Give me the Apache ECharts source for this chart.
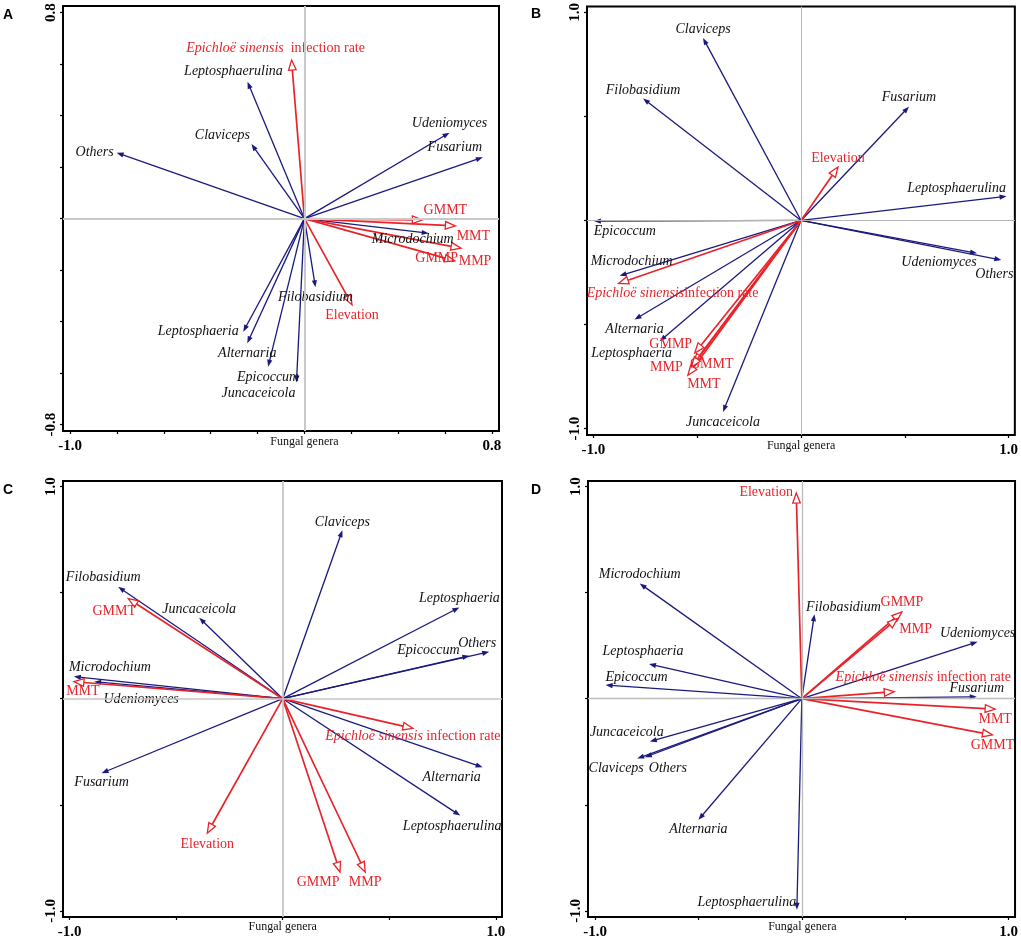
<!DOCTYPE html>
<html><head><meta charset="utf-8">
<script src="https://cdn.jsdelivr.net/npm/echarts@6.0.0/dist/echarts.min.js"></script>
<style>html,body{margin:0;padding:0;background:#fff}#c{width:1021px;height:941px}</style>
</head><body><div id="c"></div>
<script>
// ---------- data ----------
const genera = ['Alternaria','Claviceps','Epicoccum','Filobasidium','Fusarium','Juncaceicola','Leptosphaeria','Leptosphaerulina','Microdochium','Udeniomyces','Others'];
const factors = ['Epichloë sinensis infection rate','Elevation','GMMT','MMT','GMMP','MMP'];

const genusX_A = [-0.244,-0.226,-0.155,0.047,0.761,-0.034,-0.261,-0.243,0.530,0.619,-0.801];
const genusY_A = [-0.484,0.290,-0.575,-0.267,0.238,-0.637,-0.439,0.532,-0.057,0.334,0.256];
const factorX_A = [-0.055,0.203,0.503,0.644,0.641,0.668];
const factorY_A = [0.616,-0.335,-0.005,-0.028,-0.164,-0.115];

const genusX_B = [-0.802,-0.472,-0.998,-0.761,0.520,-0.376,-0.681,0.990,-0.874,0.848,0.965];
const genusY_B = [-0.476,0.877,-0.003,0.586,0.547,-0.920,-0.580,0.116,-0.266,-0.158,-0.190];
const factorX_B = [-0.879,0.178,-0.517,-0.545,-0.512,-0.528];
const factorY_B = [-0.303,0.257,-0.688,-0.744,-0.637,-0.704];

const genusX_C = [0.938,0.280,0.876,-0.772,-0.850,-0.392,0.829,0.833,-0.980,-0.885,0.969];
const genusY_C = [-0.323,0.794,0.202,0.527,-0.351,0.381,0.430,-0.551,0.104,0.080,0.221];
const factorX_C = [0.611,-0.354,-0.725,-0.980,0.269,0.387];
const factorY_C = [-0.140,-0.634,0.472,0.080,-0.817,-0.817];

const genusX_D = [-0.500,-0.796,-0.949,0.061,0.846,-0.735,-0.739,-0.024,-0.784,0.850,-0.759];
const genusY_D = [-0.571,-0.282,0.064,0.398,0.009,-0.202,0.163,-0.995,0.543,0.268,-0.276];
const factorX_D = [0.447,-0.027,0.922,0.935,0.484,0.463];
const factorY_D = [0.033,0.969,-0.171,-0.049,0.409,0.378];

const ticksA_x = [-1.0,-0.8,-0.6,-0.4,-0.2,0,0.2,0.4,0.6,0.8];
const ticksA_y = [-0.8,-0.6,-0.4,-0.2,0,0.2,0.4,0.6,0.8];
const ticksBCD = [-1.0,-0.5,0,0.5,1.0];
const tickLabelsA_x = [-1.0,0.8];
const tickLabelsA_y = [-0.8,0.8];
const tickLabelsBCD = [-1.0,1.0];
const axisTitle = 'Fungal genera';

// ---------- layout / style ----------
const BLUE = '#1a1a7e', RED = '#e8242a';
const SERIF = '"Liberation Serif","Times New Roman",serif';

const layout = {
  A: {grid:{left:63,top:6,width:436,height:425}, xr:[-1.03,0.83], yr:[-0.825,0.826], zeroW:2, zeroC:'#c9c9c9', letter:[3,8], sep:'  ', titleDy:11,
      gOff:[[0,10],[-29,-9],[0,11],[0,10],[-28,-10],[-38,11],[-45,0],[-14,-10],[-16,6],[0,-9],[-22,0]],
      fOff:[[-16,-12],[0,10],[23,-10],[18,10],[-18,-3],[14,13]]},
  B: {grid:{left:587,top:4,width:428,height:431}, xr:[-1.031,1.03], yr:[-1.031,1.028], zeroW:1, zeroC:'#b5b5b5', letter:[531,7], sep:'', titleDy:11,
      gOff:[[0,10],[0,-9],[31,10],[0,-8],[0,-9],[0,10],[-28,12],[-50,-8],[12,-15],[-38,9],[-7,14]],
      fOff:[[54,10],[0,-9],[18,1],[16,9],[-24,-9],[-25,0]]},
  C: {grid:{left:63,top:481,width:439,height:436}, xr:[-1.031,1.029], yr:[-1.029,1.026], zeroW:1.7, zeroC:'#c4c4c4', letter:[3,483], sep:' ', titleDy:10,
      gOff:[[-31,10],[0,-8],[-41,-6],[-15,-10],[0,9],[0,-9],[0,-9],[-8,11],[36,-9],[47,18],[-12,-8]],
      fOff:[[0,8],[0,11],[-14,13],[9,10],[-22,10],[0,10]]},
  D: {grid:{left:588,top:481,width:428,height:436}, xr:[-1.034,1.031], yr:[-1.029,1.026], zeroW:1.3, zeroC:'#bdbdbd', letter:[531,483], sep:' ', titleDy:10,
      gOff:[[0,9],[-21,10],[31,-8],[29,-7],[0,-8],[-23,-9],[-6,-13],[-50,-7],[0,-9],[0,-9],[23,11]],
      fOff:[[29,-14],[-30,-1],[0,10],[0,10],[0,-10],[18,11]]}
};

const panels = [
  {id:'A', gx:genusX_A, gy:genusY_A, fx:factorX_A, fy:factorY_A, xt:ticksA_x, yt:ticksA_y, xl:tickLabelsA_x, yl:tickLabelsA_y},
  {id:'B', gx:genusX_B, gy:genusY_B, fx:factorX_B, fy:factorY_B, xt:ticksBCD, yt:ticksBCD, xl:tickLabelsBCD, yl:tickLabelsBCD},
  {id:'C', gx:genusX_C, gy:genusY_C, fx:factorX_C, fy:factorY_C, xt:ticksBCD, yt:ticksBCD, xl:tickLabelsBCD, yl:tickLabelsBCD},
  {id:'D', gx:genusX_D, gy:genusY_D, fx:factorX_D, fy:factorY_D, xt:ticksBCD, yt:ticksBCD, xl:tickLabelsBCD, yl:tickLabelsBCD}
];

function arrowItem(kind) {
  return function (params, api) {
    const o = api.coord([0, 0]);
    const p = api.coord([api.value(0), api.value(1)]);
    const dx = p[0] - o[0], dy = p[1] - o[1];
    const len = Math.hypot(dx, dy) || 1;
    const ux = dx / len, uy = dy / len, nx = -uy, ny = ux;
    if (kind === 'genus') {
      const hl = 7, hw = 2.6;
      const b = [p[0] - ux * hl, p[1] - uy * hl];
      return {type: 'group', children: [
        {type: 'line', shape: {x1: o[0], y1: o[1], x2: b[0] + ux * 2, y2: b[1] + uy * 2}, style: {stroke: BLUE, lineWidth: 1.3}},
        {type: 'polygon', shape: {points: [[p[0], p[1]], [b[0] + nx * hw, b[1] + ny * hw], [b[0] - nx * hw, b[1] - ny * hw]]}, style: {fill: BLUE}}
      ]};
    }
    const hl = 10, hw = 3.8;
    const b = [p[0] - ux * hl, p[1] - uy * hl];
    return {type: 'group', children: [
      {type: 'line', shape: {x1: o[0], y1: o[1], x2: b[0], y2: b[1]}, style: {stroke: RED, lineWidth: 1.7}},
      {type: 'polygon', shape: {points: [[p[0], p[1]], [b[0] + nx * hw, b[1] + ny * hw], [b[0] - nx * hw, b[1] - ny * hw]]}, style: {fill: '#fff', stroke: RED, lineWidth: 1.3}}
    ]};
  };
}

const option = {animation: false, backgroundColor: '#fff', grid: [], xAxis: [], yAxis: [], series: [], graphic: []};

panels.forEach((pn, i) => {
  const L = layout[pn.id];
  option.grid.push(Object.assign({show: true, borderColor: '#000', borderWidth: 2, backgroundColor: 'rgba(0,0,0,0)'}, L.grid));
  const axisLabelBase = {color: '#000', fontFamily: SERIF, fontWeight: 'bold', fontSize: 15, formatter: v => Number(v).toFixed(1)};
  option.xAxis.push({type: 'value', gridIndex: i, min: L.xr[0], max: L.xr[1], position: 'bottom',
    axisLine: {show: false, onZero: false}, splitLine: {show: false},
    axisTick: {show: true, customValues: pn.xt, length: 3, lineStyle: {color: '#000', width: 1.2}},
    axisLabel: Object.assign({customValues: pn.xl, margin: 8}, axisLabelBase)});
  option.yAxis.push({type: 'value', gridIndex: i, min: L.yr[0], max: L.yr[1], position: 'left',
    axisLine: {show: false, onZero: false}, splitLine: {show: false},
    axisTick: {show: true, customValues: pn.yt, length: 3, lineStyle: {color: '#000', width: 1.2}},
    axisLabel: Object.assign({customValues: pn.yl, rotate: 90, margin: 4}, axisLabelBase)});

  // zero lines
  option.series.push({type: 'line', xAxisIndex: i, yAxisIndex: i, data: [[0, 0]], symbol: 'none', lineStyle: {opacity: 0}, silent: true, z: 1,
    markLine: {silent: true, symbol: 'none', label: {show: false}, lineStyle: {color: L.zeroC, width: L.zeroW, type: 'solid'}, data: [{xAxis: 0}, {yAxis: 0}]}});

  const gData = pn.gx.map((x, k) => [x, pn.gy[k]]);
  const fData = pn.fx.map((x, k) => [x, pn.fy[k]]);
  option.series.push({type: 'custom', xAxisIndex: i, yAxisIndex: i, data: gData, renderItem: arrowItem('genus'), silent: true, z: 2});
  option.series.push({type: 'custom', xAxisIndex: i, yAxisIndex: i, data: fData, renderItem: arrowItem('factor'), silent: true, z: 3});

  // labels
  const labels = [];
  genera.forEach((g, k) => labels.push({text: g, off: L.gOff[k], fill: '#111', font: 'italic 14px ' + SERIF}));
  factors.forEach((f, k) => {
    if (k === 0) {
      labels.push({text: '{i|Epichloë sinensis}{n|' + L.sep + 'infection rate}', off: L.fOff[k], fill: RED, font: '14px ' + SERIF,
        rich: {i: {font: 'italic 14px ' + SERIF, fill: RED}, n: {font: '14px ' + SERIF, fill: RED}}});
    } else {
      labels.push({text: f, off: L.fOff[k], fill: RED, font: '14px ' + SERIF});
    }
  });
  const lData = gData.concat(fData);
  option.series.push({type: 'custom', xAxisIndex: i, yAxisIndex: i, data: lData, silent: true, z: 4, clip: true,
    renderItem: (params, api) => {
      const p = api.coord([api.value(0), api.value(1)]);
      const lb = labels[params.dataIndex];
      const st = {text: lb.text, fill: lb.fill, font: lb.font, align: 'center', verticalAlign: 'middle'};
      if (lb.rich) st.rich = lb.rich;
      return {type: 'text', x: p[0] + lb.off[0], y: p[1] + lb.off[1], style: st};
    }});

  // panel letter + axis title at x = 0
  option.graphic.push({type: 'text', left: L.letter[0], top: L.letter[1], style: {text: pn.id, font: 'bold 14px "Liberation Sans", Arial, sans-serif', fill: '#000'}});
  const zx = L.grid.left + L.grid.width * (0 - L.xr[0]) / (L.xr[1] - L.xr[0]);
  option.graphic.push({type: 'text', x: zx, y: L.grid.top + L.grid.height + L.titleDy,
    style: {text: axisTitle, font: '12px ' + SERIF, fill: '#111', align: 'center', verticalAlign: 'middle'}});
});

const chart = echarts.init(document.getElementById('c'), null, {renderer: 'canvas'});
chart.setOption(option);
</script>
</body></html>
